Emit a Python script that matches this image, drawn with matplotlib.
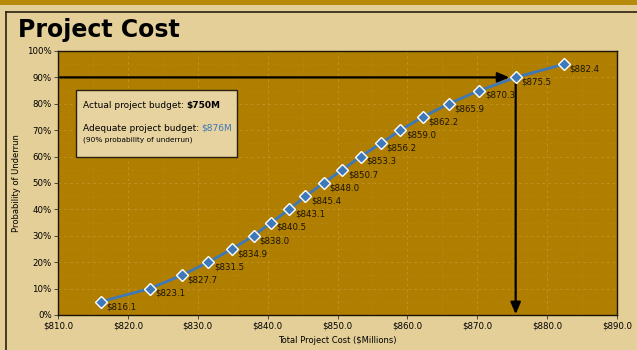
import matplotlib
matplotlib.use("Agg")
import matplotlib.pyplot as plt
from matplotlib.patches import Rectangle, FancyBboxPatch
from matplotlib.ticker import MultipleLocator, FuncFormatter

# cumulative cost distribution: probability of underrun vs total cost
probs = [5, 10, 15, 20, 25, 30, 35, 40, 45, 50, 55, 60, 65, 70, 75, 80, 85, 90, 95]
costs = [816.1, 823.1, 827.7, 831.5, 834.9, 838.0, 840.5, 843.1, 845.4, 848.0,
         850.7, 853.3, 856.2, 859.0, 862.2, 865.9, 870.3, 875.5, 882.4]
target_prob = 90
target_cost = 875.5
actual_budget = "$750M"
adequate_budget = "$876M"

GOLD = "#b07f02"
TAN = "#e4cf98"
BLUE = "#3d78b9"

fig = plt.figure(figsize=(6.37, 3.5), dpi=100, facecolor=TAN)

# top strip + panel frame
fig.patches.append(Rectangle((0, 1 - 5 / 350), 1, 5 / 350, transform=fig.transFigure,
                             facecolor="#b88a0c", edgecolor="none", zorder=0))
fig.add_artist(plt.Line2D([6 / 637, 1], [1 - 12 / 350] * 2, transform=fig.transFigure,
                          color="#2a2010", lw=1.2))
fig.add_artist(plt.Line2D([6 / 637] * 2, [0, 1 - 12 / 350], transform=fig.transFigure,
                          color="#2a2010", lw=1.2))
fig.text(18 / 637, 1 - 30 / 350, "Project Cost", fontsize=17, fontweight="bold",
         va="center", ha="left", color="black")

ax = fig.add_axes([58 / 637, 1 - 315 / 350, 559 / 637, 264 / 350])
ax.set_facecolor(GOLD)
ax.set_xlim(810, 890)
ax.set_ylim(0, 100)
ax.xaxis.set_major_locator(MultipleLocator(10))
ax.xaxis.set_minor_locator(MultipleLocator(5))
ax.yaxis.set_major_locator(MultipleLocator(10))
ax.yaxis.set_minor_locator(MultipleLocator(5))
ax.xaxis.set_major_formatter(FuncFormatter(lambda v, _: f"${v:.1f}"))
ax.yaxis.set_major_formatter(FuncFormatter(lambda v, _: f"{v:.0f}%"))
ax.tick_params(which="major", labelsize=6.2, length=3, width=0.6, color="#333", pad=1.5)
ax.tick_params(which="minor", length=0)
ax.grid(which="major", color="#cfa84a", ls=(0, (3, 4)), lw=0.6, alpha=0.55)
ax.grid(which="minor", color="#c29a38", ls=(0, (3, 4)), lw=0.5, alpha=0.35)
for s in ax.spines.values():
    s.set_color("#1a1408")
    s.set_linewidth(1.0)

ax.set_xlabel("Total Project Cost ($Millions)", fontsize=6, labelpad=4)
ax.set_ylabel("Probability of Underrun", fontsize=6, labelpad=4)

# budget arrows at 90% probability
ax.annotate("", xy=(target_cost - 0.9, target_prob), xytext=(810.3, target_prob),
            arrowprops=dict(arrowstyle="-|>,head_length=0.7,head_width=0.3",
                            color="black", lw=1.6, shrinkA=0, shrinkB=0), zorder=3)
ax.annotate("", xy=(target_cost, 0.3), xytext=(target_cost, target_prob),
            arrowprops=dict(arrowstyle="-|>,head_length=0.7,head_width=0.3",
                            color="black", lw=1.6, shrinkA=0, shrinkB=0), zorder=3)

ax.plot(costs, probs, color=BLUE, lw=2, zorder=4, solid_capstyle="round")
ax.plot(costs, probs, ls="none", marker="D", ms=5.8, mfc=BLUE, mec="white", mew=1.0, zorder=5)
for c, p in zip(costs, probs):
    ax.annotate(f"${c:.1f}", (c, p), xytext=(4, -3.5), textcoords="offset points",
                fontsize=6.2, color="#1a1408", ha="left", va="center", zorder=6)

# info box
box = FancyBboxPatch((0.032, 0.598), 0.288, 0.254, boxstyle="square,pad=0",
                     transform=ax.transAxes, facecolor="#e6d3a0", edgecolor="#2a2010",
                     lw=1.0, zorder=6)
ax.add_patch(box)
t = ax.text(0.044, 0.795, "Actual project budget: ", transform=ax.transAxes, fontsize=6.5,
            va="center", zorder=7)
fig.canvas.draw()
bb = t.get_window_extent().transformed(ax.transAxes.inverted())
ax.text(bb.x1, 0.795, actual_budget, transform=ax.transAxes, fontsize=6.5,
        fontweight="bold", va="center", zorder=7)
t2 = ax.text(0.044, 0.708, "Adequate project budget: ", transform=ax.transAxes,
             fontsize=6.5, va="center", zorder=7)
fig.canvas.draw()
bb2 = t2.get_window_extent().transformed(ax.transAxes.inverted())
ax.text(bb2.x1, 0.708, adequate_budget, transform=ax.transAxes, fontsize=6.5,
        color=BLUE, va="center", zorder=7)
ax.text(0.044, 0.665, "(90% probability of underrun)", transform=ax.transAxes,
        fontsize=5.3, va="center", zorder=7)

fig.savefig("out.png", dpi=100, facecolor=TAN)
